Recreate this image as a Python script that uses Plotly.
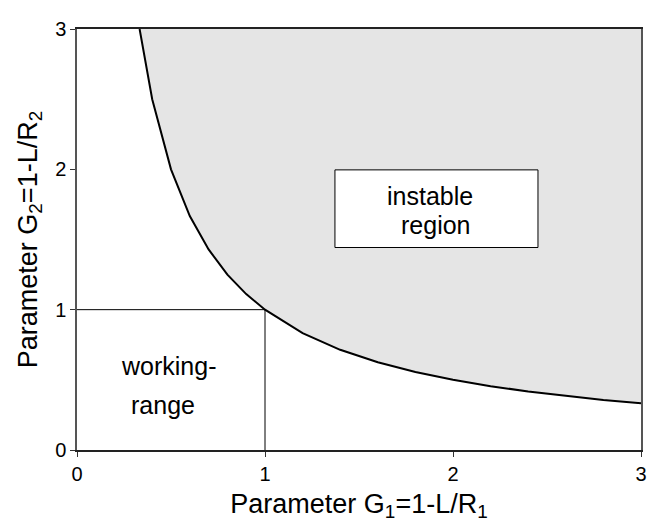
"""
    Stability diagram of a two-mirror resonator (G1 * G2 = 1 boundary).
"""
import plotly.graph_objects as go

# Boundary curve G2 = 1/G1, sampled points
g1_values = [0.333, 0.4, 0.5, 0.6, 0.7, 0.8, 0.9, 1.0, 1.2, 1.4, 1.6,
             1.8, 2.0, 2.2, 2.4, 2.6, 2.8, 3.0]
g2_values = [3.0, 2.5, 2.0, 1.667, 1.429, 1.25, 1.111, 1.0, 0.833, 0.714,
             0.625, 0.556, 0.5, 0.455, 0.417, 0.385, 0.357, 0.333]

# Working range corner lines
range_x = [0, 1, 1]
range_y = [1, 1, 0]

tick_values = [0, 1, 2, 3]
tick_labels = ["0", "1", "2", "3"]

FONT = "Liberation Sans, Arial, sans-serif"

fig = go.Figure()

# Shaded instable region: curve closed along the top edge
fig.add_trace(go.Scatter(
    x=g1_values + [g1_values[-1]],
    y=g2_values + [g2_values[0]],
    fill="toself",
    fillcolor="#e5e5e5",
    line=dict(width=0),
    mode="lines",
    hoverinfo="skip",
    showlegend=False,
))

# Boundary curve
fig.add_trace(go.Scatter(
    x=g1_values,
    y=g2_values,
    mode="lines",
    line=dict(color="black", width=2),
    showlegend=False,
))

# Working range lines
fig.add_trace(go.Scatter(
    x=range_x,
    y=range_y,
    mode="lines",
    line=dict(color="black", width=1),
    showlegend=False,
))

# Label box
fig.add_shape(
    type="rect",
    x0=1.372, x1=2.452, y0=1.443, y1=1.996,
    xref="x", yref="y",
    fillcolor="white",
    line=dict(color="black", width=1),
)

labels = [
    ("instable", 1.875, 1.81),
    ("region", 1.91, 1.60),
    ("working-", 0.487, 0.60),
    ("range", 0.457, 0.32),
]
for text, x, y in labels:
    fig.add_annotation(
        text=text, x=x, y=y, xref="x", yref="y",
        showarrow=False,
        font=dict(family=FONT, size=25, color="black"),
    )

fig.update_xaxes(
    range=[0, 3],
    tickvals=tick_values,
    ticktext=tick_labels,
    ticks="outside",
    ticklen=5,
    tickcolor="#333",
    tickfont=dict(family=FONT, size=20, color="black"),
    showgrid=False,
    zeroline=False,
    showline=True,
    linecolor="#222",
    linewidth=1.5,
    mirror=True,
    title=dict(
        text="Parameter G<sub>1</sub>=1-L/R<sub>1</sub>",
        font=dict(family=FONT, size=27, color="black"),
        standoff=10,
    ),
)

fig.update_yaxes(
    range=[0, 3],
    tickvals=tick_values,
    ticktext=tick_labels,
    ticks="outside",
    ticklen=5,
    tickcolor="#333",
    tickfont=dict(family=FONT, size=20, color="black"),
    showgrid=False,
    zeroline=False,
    showline=True,
    linecolor="#555",
    linewidth=1.5,
    mirror=True,
    title=dict(
        text="Parameter G<sub>2</sub>=1-L/R<sub>2</sub>",
        font=dict(family=FONT, size=27, color="black"),
        standoff=10,
    ),
)

# page body adds an 8px margin, so the figure is 8px smaller and offset
fig.update_layout(
    width=649,
    height=516,
    margin=dict(l=69, r=16, t=10, b=72),
    paper_bgcolor="white",
    plot_bgcolor="white",
    showlegend=False,
)

fig.write_html("out.html")
